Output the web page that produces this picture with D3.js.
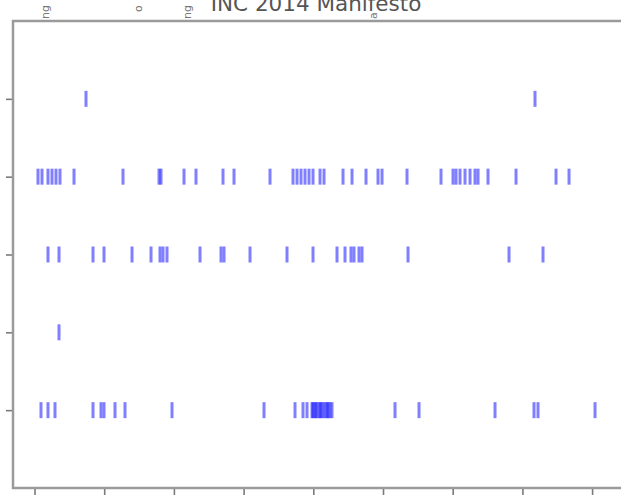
<!DOCTYPE html>
<html>
<head>
<meta charset="utf-8">
<script src="https://cdn.jsdelivr.net/npm/d3@7"></script>
<style>
  html, body { margin: 0; padding: 0; background: #fff; overflow: hidden; }
  svg { display: block; }
</style>
</head>
<body>
<svg id="chart" width="621" height="495"></svg>
<script>
// ---- data (word offsets in the text) ----
const title = "INC 2014 Manifesto";
const words = ["poverty", "development", "women", "corruption", "youth"]; // top -> bottom
const offsets0 = [3694, 35904];
const offsets1 = [251, 538, 968, 1255, 1542, 1829, 2834, 6349, 8932, 9075, 10725, 11586, 13523, 14312, 16895,
  18545, 18832, 19119, 19406, 19693, 19980, 20482, 20769, 22132, 22777, 23782, 24643, 24930, 26723, 29162,
  30023, 30238, 30525, 30884, 31243, 31601, 31817, 32533, 34543, 37412, 38345];
const offsets2 = [968, 1758, 4197, 4986, 6995, 8358, 9003, 9218, 9505, 11873, 13379, 13595, 15460, 18114, 19980,
  21701, 22275, 22705, 22920, 23279, 23494, 26795, 34040, 36479];
const offsets3 = [1758];
const offsets4 = [466, 968, 1471, 4197, 4771, 4986, 5775, 6492, 9864, 16464, 18688, 19262, 19549, 19908, 19980,
  20123, 20195, 20338, 20482, 20554, 20697, 20840, 20984, 21056, 21199, 21342, 25862, 27584, 33036, 35833,
  36120, 40210];
const xTicks = [0, 5000, 10000, 15000, 20000, 25000, 30000, 35000, 40000];
// fragments of rotated labels peeking in at the top edge
const topFragments = [
  { x: 45, text: "ng" },
  { x: 138, text: "o" },
  { x: 187, text: "ng" },
  { x: 373, text: "a" }
];
const series = [offsets0, offsets1, offsets2, offsets3, offsets4];

// ---- layout ----
const svg = d3.select("#chart");
const frame = { left: 13, top: 21, bottom: 488, right: 720 };

const x = d3.scaleLinear().domain([0, 40000]).range([34.5, 592.1]);
// row index 0 at the top; one empty row of margin above and below
const y = d3.scaleLinear().domain([-1, 5]).range([frame.top, frame.bottom]);

// title (partly cut off at the top)
svg.append("text")
  .attr("x", 316).attr("y", 11)
  .attr("text-anchor", "middle")
  .attr("font-family", "DejaVu Sans, sans-serif")
  .attr("font-size", 21.5)
  .attr("fill", "#555")
  .text(title);

// rotated fragments at the top edge
svg.selectAll(".frag")
  .data(topFragments)
  .enter().append("text")
  .attr("class", "frag")
  .attr("transform", d => `translate(${d.x + 4},${d.text === "o" ? 12 : 19}) rotate(-90)`)
  .attr("font-family", "DejaVu Sans, sans-serif")
  .attr("font-size", 11)
  .attr("fill", "#777")
  .text(d => d.text);

// marks
const marks = svg.append("g");
series.forEach((vals, i) => {
  marks.selectAll(null)
    .data(vals)
    .enter().append("line")
    .attr("x1", d => x(d)).attr("x2", d => x(d))
    .attr("y1", y(i) - 8).attr("y2", y(i) + 8)
    .attr("stroke", "#0000ff")
    .attr("stroke-width", 3)
    .attr("stroke-opacity", 0.5);
});

// axes
const xAxis = d3.axisBottom(x).tickValues(xTicks).tickSize(7).tickPadding(4);
const gx = svg.append("g").attr("transform", `translate(0,${frame.bottom})`).call(xAxis);
const yAxis = d3.axisLeft(y).tickValues(d3.range(words.length)).tickFormat(i => words[i]).tickSize(7).tickPadding(8);
const gy = svg.append("g").attr("transform", `translate(${frame.left},0)`).call(yAxis);
[gx, gy].forEach(g => {
  g.select(".domain").remove();
  g.selectAll(".tick line").attr("stroke", "#7a7a7a").attr("stroke-width", 1.6);
  g.selectAll(".tick text").attr("fill", "#555").attr("font-family", "DejaVu Sans, sans-serif").attr("font-size", 12);
});

// frame (axes spines)
svg.append("rect")
  .attr("x", frame.left).attr("y", frame.top)
  .attr("width", frame.right - frame.left).attr("height", frame.bottom - frame.top)
  .attr("fill", "none")
  .attr("stroke", "#9a9a9a")
  .attr("stroke-width", 2.5);
</script>
</body>
</html>
